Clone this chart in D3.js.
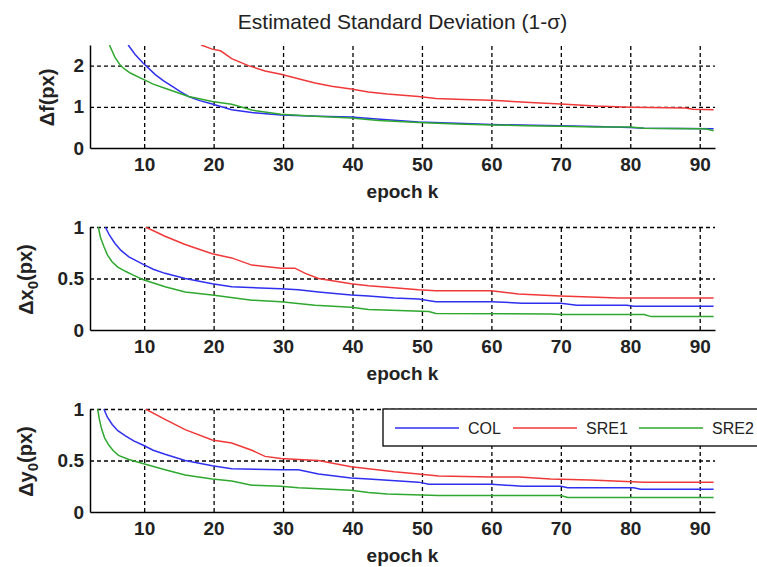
<!DOCTYPE html>
<html>
<head>
<meta charset="utf-8">
<script src="https://cdn.jsdelivr.net/npm/d3@7"></script>
<style>
  body { margin: 0; background: #fff; }
  svg { font-family: "Liberation Sans", Arial, sans-serif; }
  .grid line { stroke: #000; stroke-width: 1.3; stroke-dasharray: 4,3; }
  .grid path { display: none; }
  .axis path { stroke: #000; stroke-width: 1.5; }
  .axis text { font-size: 19px; font-weight: bold; fill: #222; }
</style>
</head>
<body>
<div id="chart"></div>
<script>
// values, [epoch k, sigma]
var epochTicks = [10, 20, 30, 40, 50, 60, 70, 80, 90];
var seriesNames = ["COL", "SRE1", "SRE2"];
var seriesColors = ["#2f2ff0", "#f03838", "#2ea82e"];

var dfCOL = [[7.7,2.5],[8.7,2.27],[9.8,2.07],[11.6,1.78],[12.8,1.63],[14,1.5],[15.2,1.37],[16.4,1.25],[18,1.15],[19.8,1.07],[22.6,0.93],[25.5,0.86],[29.7,0.80],[35,0.77],[39.8,0.75],[44,0.70],[49.5,0.63],[55,0.60],[60,0.57],[66,0.55],[70,0.54],[75,0.52],[80,0.50],[82,0.48],[92,0.47]];
var dfSRE1 = [[18.2,2.5],[19.8,2.4],[21,2.36],[22.6,2.17],[25,2.0],[27.4,1.87],[29.7,1.79],[32.2,1.68],[34.6,1.58],[37,1.5],[39.8,1.43],[42.3,1.36],[45,1.31],[49.5,1.25],[52,1.2],[56,1.18],[60,1.16],[63,1.13],[66.3,1.10],[70,1.07],[75,1.02],[80,0.99],[88,0.97],[89,0.94],[92,0.93]];
var dfSRE2 = [[5.0,2.5],[5.8,2.2],[6.6,2.0],[7.3,1.9],[8,1.82],[9.8,1.67],[11.3,1.55],[13,1.45],[16.4,1.25],[19.8,1.13],[22.6,1.06],[25.5,0.92],[29.7,0.82],[34.6,0.77],[39.8,0.73],[43.8,0.67],[49.5,0.62],[55,0.58],[60,0.56],[65,0.54],[70,0.53],[75,0.51],[80,0.51],[82,0.48],[90,0.47],[91,0.46],[92,0.42]];

var dxCOL = [[4.4,1.0],[5.0,0.92],[5.8,0.84],[6.7,0.77],[7.8,0.71],[9.8,0.64],[11.3,0.59],[13,0.55],[15.9,0.50],[19.8,0.45],[22.6,0.42],[29.7,0.40],[32.2,0.39],[35.1,0.37],[39.8,0.34],[42.3,0.33],[46,0.31],[49.5,0.30],[52,0.275],[60,0.275],[64.4,0.26],[70,0.26],[72.3,0.24],[79.5,0.24],[80.5,0.23],[92,0.23]];
var dxSRE1 = [[10.2,1.0],[13,0.91],[15.9,0.83],[19.8,0.74],[22.6,0.70],[25.5,0.63],[29.7,0.60],[31.7,0.60],[33.2,0.55],[35.1,0.50],[39.8,0.45],[42.3,0.43],[46,0.41],[49.5,0.39],[52,0.38],[60,0.38],[63.9,0.35],[69.9,0.33],[74.2,0.32],[78.3,0.31],[92,0.31]];
var dxSRE2 = [[3.4,1.0],[3.7,0.9],[4.2,0.81],[4.7,0.73],[5.4,0.66],[6.2,0.61],[7.3,0.57],[8.5,0.53],[9.8,0.49],[13,0.42],[15.9,0.37],[19.8,0.34],[25.5,0.29],[29.7,0.275],[34.6,0.24],[39.8,0.22],[42.3,0.20],[51,0.18],[52,0.16],[68.5,0.155],[70,0.15],[82,0.15],[83,0.13],[92,0.13]];

var dyCOL = [[4.2,1.0],[4.7,0.92],[5.4,0.85],[6.2,0.79],[7.3,0.74],[8.5,0.69],[9.8,0.65],[11.3,0.60],[13,0.56],[15.9,0.50],[19.8,0.45],[22.6,0.42],[29.7,0.41],[32.2,0.41],[35.1,0.37],[39.8,0.33],[42.3,0.32],[49.5,0.29],[51,0.27],[60,0.27],[64.5,0.25],[70,0.25],[71,0.235],[80.5,0.235],[81.5,0.22],[92,0.22]];
var dySRE1 = [[10.2,1.0],[13,0.90],[15.9,0.80],[19.8,0.70],[22.6,0.67],[25.5,0.60],[27.4,0.54],[29.7,0.52],[32.2,0.51],[35.1,0.50],[39.8,0.44],[42.3,0.42],[46,0.39],[49.5,0.37],[52.4,0.35],[60,0.34],[64,0.34],[68.5,0.32],[74.2,0.31],[82,0.29],[92,0.29]];
var dySRE2 = [[3.3,1.0],[3.55,0.9],[3.9,0.80],[4.3,0.72],[4.9,0.65],[5.5,0.60],[6.3,0.55],[7.8,0.51],[9.8,0.47],[13,0.41],[15.9,0.36],[19.8,0.32],[22.6,0.30],[25.5,0.26],[29.7,0.25],[32.2,0.235],[39.8,0.21],[42.3,0.19],[45,0.175],[52.4,0.16],[70,0.16],[71,0.14],[92,0.14]];

var yTicksF = [0, 1, 2];
var yTicksXY = [0, 0.5, 1];

var width = 757, height = 567;
var left = 90, right = 715, plotH = 103;

var panels = [
  { top: 45, yMax: 2.5, ticks: yTicksF, sym: "f", sub: "", series: [dfCOL, dfSRE1, dfSRE2], labX: 54 },
  { top: 227, yMax: 1, ticks: yTicksXY, sym: "x", sub: "0", series: [dxCOL, dxSRE1, dxSRE2], labX: 33 },
  { top: 409, yMax: 1, ticks: yTicksXY, sym: "y", sub: "0", series: [dyCOL, dySRE1, dySRE2], labX: 33, legend: true }
];

var svg = d3.select("#chart").append("svg")
  .attr("width", width)
  .attr("height", height);

svg.append("text")
  .attr("x", (left + right) / 2)
  .attr("y", 29)
  .attr("text-anchor", "middle")
  .style("font-size", "21px")
  .style("fill", "#222")
  .text("Estimated Standard Deviation (1-\u03c3)");

var x = d3.scaleLinear().domain([2.2, 92.2]).range([left, right]);

panels.forEach(function (p, i) {
  var y = d3.scaleLinear().domain([0, p.yMax]).range([p.top + plotH, p.top]);
  var g = svg.append("g");

  // dashed grid
  g.append("g")
    .attr("class", "grid")
    .attr("transform", "translate(0," + (p.top + plotH) + ")")
    .call(d3.axisBottom(x).tickValues(epochTicks).tickSize(-plotH).tickFormat(""));
  g.append("g")
    .attr("class", "grid")
    .attr("transform", "translate(" + left + ",0)")
    .call(d3.axisLeft(y).tickValues(p.ticks.filter(function (t) { return t > 0; })).tickSize(-(right - left)).tickFormat(""));

  // lines
  g.append("clipPath").attr("id", "clip" + i)
    .append("rect")
    .attr("x", left).attr("y", p.top)
    .attr("width", right - left).attr("height", plotH);

  var line = d3.line()
    .x(function (d) { return x(d[0]); })
    .y(function (d) { return y(d[1]); });

  g.append("g").attr("clip-path", "url(#clip" + i + ")")
    .selectAll("path")
    .data(p.series)
    .enter()
    .append("path")
    .attr("d", line)
    .attr("fill", "none")
    .attr("stroke", function (d, j) { return seriesColors[j]; })
    .attr("stroke-width", 1.5);

  // axes
  var xa = g.append("g")
    .attr("class", "axis")
    .attr("transform", "translate(0," + (p.top + plotH) + ")")
    .call(d3.axisBottom(x).tickValues(epochTicks).tickSize(0).tickSizeOuter(0).tickPadding(10));
  xa.selectAll("text").attr("dy", "0.71em");

  g.append("g")
    .attr("class", "axis")
    .attr("transform", "translate(" + left + ",0)")
    .call(d3.axisLeft(y).tickValues(p.ticks).tickSize(0).tickSizeOuter(0).tickPadding(6).tickFormat(d3.format("")));

  g.append("text")
    .attr("x", (left + right) / 2)
    .attr("y", p.top + plotH + 50)
    .attr("text-anchor", "middle")
    .style("font-size", "19px")
    .style("font-weight", "bold")
    .style("fill", "#222")
    .text("epoch k");

  var lab = g.append("text")
    .attr("transform", "translate(" + p.labX + "," + (p.top + plotH / 2 + 1) + ") rotate(-90)")
    .attr("text-anchor", "middle")
    .style("font-size", "20px")
    .style("font-weight", "bold")
    .style("fill", "#222");
  lab.append("tspan").text("\u0394" + p.sym);
  if (p.sub) {
    lab.append("tspan").attr("dy", "0.3em").style("font-size", "15px").text(p.sub);
    lab.append("tspan").attr("dy", "-0.3em").text("(px)");
  } else {
    lab.append("tspan").text("(px)");
  }

  if (p.legend) {
    var lg = g.append("g");
    lg.append("rect")
      .attr("x", 383).attr("y", p.top)
      .attr("width", 400).attr("height", 37)
      .attr("fill", "#fff").attr("stroke", "#000").attr("stroke-width", 1.3);
    var starts = [395, 513, 639];
    seriesNames.forEach(function (name, j) {
      var ly = p.top + 19;
      lg.append("line")
        .attr("x1", starts[j]).attr("x2", starts[j] + 64)
        .attr("y1", ly).attr("y2", ly)
        .attr("stroke", seriesColors[j]).attr("stroke-width", 1.5);
      lg.append("text")
        .attr("x", starts[j] + 73).attr("y", ly + 6)
        .style("font-size", "16px")
        .style("fill", "#222")
        .text(name);
    });
  }
});
</script>
</body>
</html>
